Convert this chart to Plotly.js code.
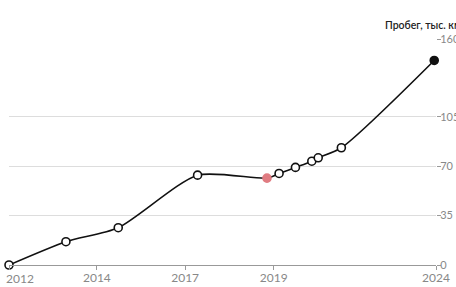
<!DOCTYPE html>
<html><head><meta charset="utf-8">
<script src="https://cdn.plot.ly/plotly-3.0.1.min.js"></script>
<style>html,body{margin:0;padding:0;background:#fff;overflow:hidden}#chart{width:456px;height:287px}</style>
</head><body><div id="chart"></div>
<script>
// Position along the (non-uniform) time axis, 2012 = 0 ... 2024 = 12
const xPos = [0, 1.6, 3.07, 5.3, 7.25, 7.59, 8.05, 8.51, 8.69, 9.34, 11.95];
const mileage = [0, 16.5, 26.4, 63.6, 61.5, 64.8, 69.1, 73.5, 75.9, 83, 144.8];
const markerKind = ['o','o','o','o','red','o','o','o','o','o','last'];
const xTickVals = [0, 2.47, 4.95, 7.44, 12];
const xTickText = ['2012', '2014', '2017', '2019', '2024'];
const yTickVals = [0, 35, 70, 105, 160];
const yTitle = 'Пробег, тыс. км';

const fills = markerKind.map(k => k === 'red' ? '#e07c82' : (k === 'last' ? '#111' : '#fff'));
const lines = markerKind.map(k => k === 'red' ? '#e07c82' : '#111');

const data = [{
  x: xPos, y: mileage, mode: 'lines+markers', type: 'scatter',
  line: {color: '#111', width: 1.6, shape: 'spline', smoothing: 0.7},
  marker: {size: 8, color: fills, line: {color: lines, width: 1.6}},
  cliponaxis: false, hoverinfo: 'none'
}];

const layout = {
  width: 456, height: 287,
  margin: {l: 9, r: 20, t: 39, b: 22},
  paper_bgcolor: '#fff', plot_bgcolor: '#fff',
  font: {family: 'Lato, sans-serif', color: '#888', size: 12},
  showlegend: false,
  xaxis: {
    range: [0, 12], tickmode: 'array', tickvals: xTickVals,
    ticktext: xTickText.map((t, i) => i === 0 ? '' : t),
    showgrid: false, zeroline: false, showline: true, linecolor: '#999', linewidth: 1,
    ticks: 'outside', ticklen: 4, tickcolor: '#999', ticklabelstandoff: -2,
    tickfont: {size: 12, color: '#888'}
  },
  yaxis: {
    range: [0, 160], side: 'right', tickmode: 'array', tickvals: yTickVals,
    showgrid: true, gridcolor: '#ddd', gridwidth: 1, zeroline: false, showline: false,
    ticks: 'outside', ticklen: 4, tickcolor: '#999', ticklabelstandoff: -3,
    tickfont: {size: 11, color: '#888'}
  },
  annotations: [{
    text: yTitle, xref: 'paper', yref: 'paper', x: 374 / 427, xanchor: 'left',
    y: 1, yanchor: 'bottom', yshift: 6, showarrow: false,
    font: {size: 10.5, color: '#222', family: 'Lato, sans-serif', weight: 600}
  }, {
    text: xTickText[0], xref: 'x', yref: 'paper', x: xTickVals[0], xanchor: 'left', xshift: -5,
    y: 0, yanchor: 'top', yshift: -4, showarrow: false,
    font: {size: 12, color: '#888', family: 'Lato, sans-serif'}
  }]
};

Plotly.newPlot('chart', data, layout, {staticPlot: true, displayModeBar: false});
</script></body></html>
